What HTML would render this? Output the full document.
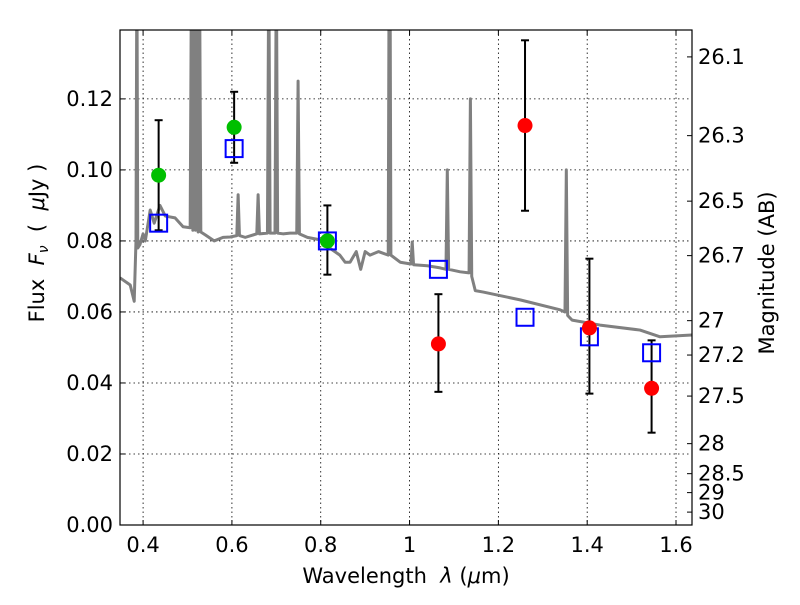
<!DOCTYPE html>
<html><head><meta charset="utf-8"><style>
html,body{margin:0;padding:0;background:#fff;}
svg text{font-family:"DejaVu Sans","Liberation Sans",sans-serif;white-space:pre;}
</style></head><body>
<svg id="chart" width="800" height="600"></svg>
<script>
const specWave=[0.348,0.371,0.380,0.384,0.386,0.388,0.393,0.400,0.405,0.416,0.425,0.438,0.450,0.472,0.490,0.506,0.509,0.512,0.515,0.518,0.521,0.524,0.527,0.530,0.540,0.560,0.580,0.596,0.611,0.614,0.617,0.630,0.656,0.659,0.662,0.680,0.683,0.686,0.697,0.700,0.703,0.715,0.731,0.746,0.749,0.752,0.770,0.799,0.820,0.843,0.855,0.866,0.880,0.890,0.900,0.911,0.930,0.952,0.954,0.956,0.958,0.979,1.003,1.006,1.009,1.040,1.069,1.082,1.085,1.088,1.114,1.134,1.137,1.140,1.148,1.166,1.249,1.339,1.350,1.353,1.356,1.366,1.429,1.519,1.564,1.636];
const specFlux=[0.0696,0.0676,0.063,0.08,0.16,0.078,0.079,0.082,0.080,0.0887,0.085,0.090,0.087,0.0865,0.084,0.0837,0.16,0.083,0.16,0.083,0.16,0.0825,0.16,0.0825,0.0817,0.080,0.081,0.0811,0.0815,0.093,0.0815,0.081,0.082,0.093,0.082,0.0822,0.16,0.0822,0.0822,0.16,0.0822,0.082,0.0822,0.0822,0.125,0.082,0.081,0.0803,0.078,0.076,0.074,0.074,0.077,0.072,0.077,0.076,0.077,0.076,0.16,0.16,0.076,0.074,0.0735,0.0797,0.0733,0.073,0.0724,0.072,0.1,0.072,0.0713,0.071,0.12,0.07,0.066,0.0656,0.0634,0.0606,0.060,0.1,0.059,0.0577,0.0563,0.0549,0.053,0.0535];
const greenWave=[0.435,0.605,0.815];
const greenFlux=[0.0985,0.112,0.080];
const greenLo=[0.083,0.102,0.0705];
const greenHi=[0.114,0.122,0.090];
const redWave=[1.065,1.26,1.405,1.545];
const redFlux=[0.051,0.1125,0.0555,0.0385];
const redLo=[0.0375,0.0885,0.037,0.026];
const redHi=[0.065,0.1365,0.075,0.052];
const modelWave=[0.435,0.605,0.815,1.065,1.26,1.405,1.545];
const modelFlux=[0.085,0.106,0.080,0.072,0.0585,0.053,0.0485];
const xTicks=[0.4,0.6,0.8,1.0,1.2,1.4,1.6];
const xTickLabels=["0.4","0.6","0.8","1","1.2","1.4","1.6"];
const yTicks=[0,0.02,0.04,0.06,0.08,0.10,0.12];
const yTickLabels=["0.00","0.02","0.04","0.06","0.08","0.10","0.12"];
const magTicks=[26.1,26.3,26.5,26.7,27,27.2,27.5,28,28.5,29,30];
const magLabels=["26.1","26.3","26.5","26.7","27","27.2","27.5","28","28.5","29","30"];

const L=120,R=692,T=30,B=525,xmin=0.348,xmax=1.636,ymin=0,ymax=0.1394;
const X=v=>L+(v-xmin)/(xmax-xmin)*(R-L);
const Y=v=>B-(v-ymin)/(ymax-ymin)*(B-T);
const svg=document.getElementById('chart');
const NS='http://www.w3.org/2000/svg';
function mk(tag,attrs,parent){const e=document.createElementNS(NS,tag);for(const k in attrs)e.setAttribute(k,attrs[k]);(parent||svg).appendChild(e);return e;}

const defs=mk('defs',{});
const cp=mk('clipPath',{id:'clip'},defs);mk('rect',{x:L,y:T,width:R-L,height:B-T},cp);

const grid=mk('g',{});


xTicks.forEach(t=>mk('line',{x1:X(t),x2:X(t),y1:T,y2:B,stroke:'#000','stroke-width':0.8,'stroke-dasharray':'1.5,3'},grid));
yTicks.forEach(t=>mk('line',{x1:L,x2:R,y1:Y(t),y2:Y(t),stroke:'#000','stroke-width':0.8,'stroke-dasharray':'1.5,3'},grid));

const plot=mk('g',{'clip-path':'url(#clip)'});
const sp=mk('polyline',{points:specWave.map((w,i)=>X(w)+','+Y(specFlux[i])).join(' '),fill:'none',stroke:'#808080','stroke-width':3,'stroke-linejoin':'round'},plot);



function errbars(ws,lo,hi,name){
  const g=mk('g',{});
  
  
  ws.forEach((w,i)=>{
    const x=X(w);
    mk('line',{x1:x,x2:x,y1:Y(lo[i]),y2:Y(hi[i]),stroke:'#000','stroke-width':2},g);
    mk('line',{x1:x-4,x2:x+4,y1:Y(lo[i]),y2:Y(lo[i]),stroke:'#000','stroke-width':2},g);
    mk('line',{x1:x-4,x2:x+4,y1:Y(hi[i]),y2:Y(hi[i]),stroke:'#000','stroke-width':2},g);
  });
}
errbars(greenWave,greenLo,greenHi,'green-error-bars');
errbars(redWave,redLo,redHi,'red-error-bars');

modelWave.forEach((w,i)=>{
  const r=mk('rect',{x:X(w)-8.5,y:Y(modelFlux[i])-8.5,width:17,height:17,fill:'none',stroke:'#0000ff','stroke-width':2});
  
  
});
greenWave.forEach((w,i)=>{
  const c=mk('circle',{cx:X(w),cy:Y(greenFlux[i]),r:7.5,fill:'#00bf00'});
  
  
});
redWave.forEach((w,i)=>{
  const c=mk('circle',{cx:X(w),cy:Y(redFlux[i]),r:7.5,fill:'#ff0000'});
  
  
});

const frame=mk('rect',{x:L,y:T,width:R-L,height:B-T,fill:'none',stroke:'#000','stroke-width':1.2});



const FS=21;
const xt=mk('g',{});


xTicks.forEach((t,i)=>{
  mk('line',{x1:X(t),x2:X(t),y1:B,y2:B-5,stroke:'#000'},xt);
  mk('line',{x1:X(t),x2:X(t),y1:T,y2:T+5,stroke:'#000'},xt);
  const tx=mk('text',{x:X(t),y:B+27,'font-size':FS,'text-anchor':'middle'},xt);tx.textContent=xTickLabels[i];
});
const yt=mk('g',{});


yTicks.forEach((t,i)=>{
  mk('line',{x1:L,x2:L+5,y1:Y(t),y2:Y(t),stroke:'#000'},yt);
  const tx=mk('text',{x:L-7,y:Y(t)+7,'font-size':FS,'text-anchor':'end'},yt);tx.textContent=yTickLabels[i];
});
const mt=mk('g',{});


magTicks.forEach((m,i)=>{
  const f=Math.pow(10,(23.9-m)/2.5);const y=Y(f);
  mk('line',{x1:R-5,x2:R,y1:y,y2:y,stroke:'#000'},mt);
  const tx=mk('text',{x:R+6,y:y+7,'font-size':FS},mt);tx.textContent=magLabels[i];
});

const xl=mk('text',{x:406,y:583,'font-size':21,'text-anchor':'middle'});


xl.innerHTML='Wavelength  <tspan font-style="italic">λ</tspan> (<tspan font-style="italic">μ</tspan>m)';
const yl=mk('text',{x:0,y:0,'font-size':21,'text-anchor':'middle',transform:'translate(44,243) rotate(-90)'});


yl.innerHTML='Flux  <tspan font-style="italic">F</tspan><tspan font-style="italic" font-size="14" dy="4">ν</tspan><tspan dy="-4">  (  </tspan><tspan font-style="italic">μ</tspan>Jy )';
const ml=mk('text',{x:0,y:0,'font-size':21,'text-anchor':'middle',transform:'translate(774,273) rotate(-90)'});


ml.textContent='Magnitude (AB)';
</script>
</body></html>
